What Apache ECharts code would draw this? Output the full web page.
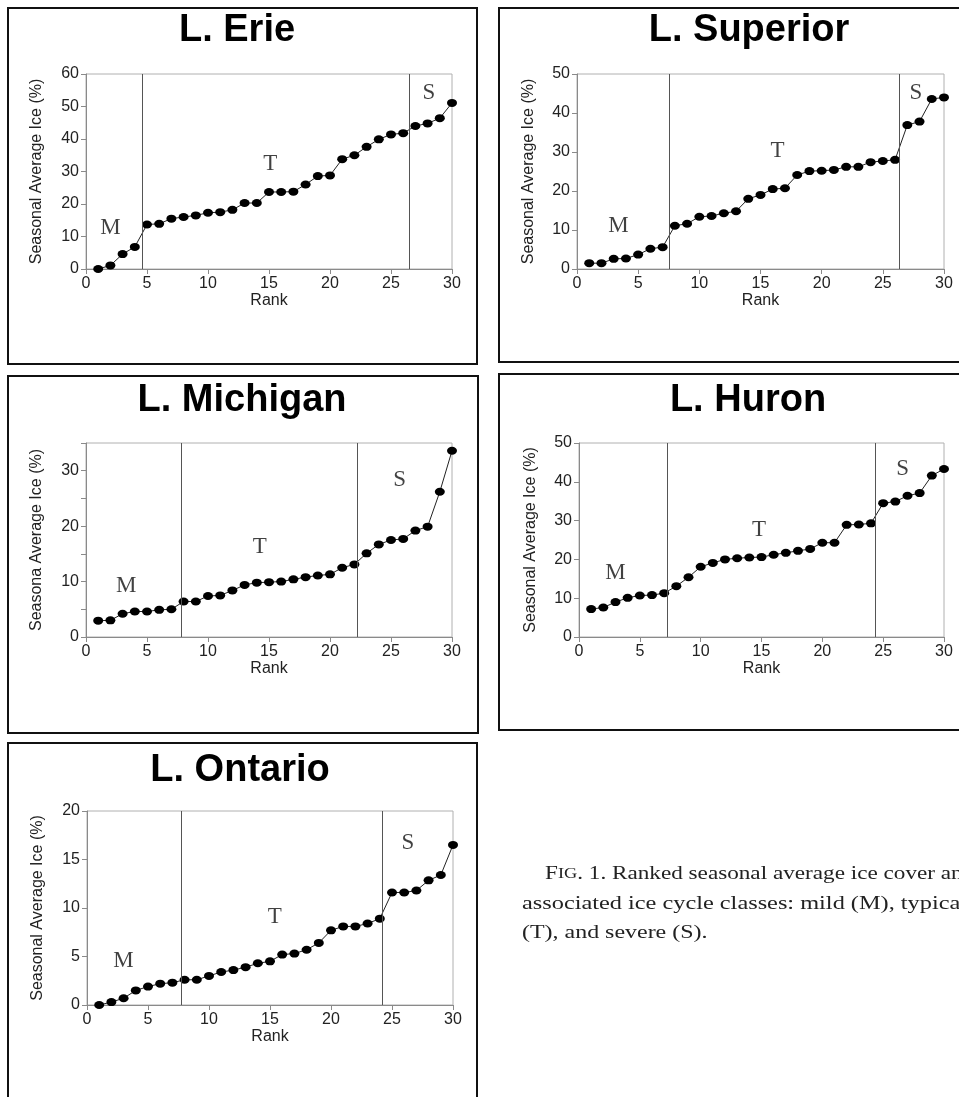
<!DOCTYPE html>
<html><head><meta charset="utf-8">
<script src="https://cdn.jsdelivr.net/npm/echarts@6/dist/echarts.min.js"></script>
<style>html,body{margin:0;padding:0;background:#fff}#c{width:959px;height:1097px}</style>
</head><body><div id="c"></div><script>
const ranks = [1,2,3,4,5,6,7,8,9,10,11,12,13,14,15,16,17,18,19,20,21,22,23,24,25,26,27,28,29,30];
const erie = [0,1.1,4.6,6.8,13.7,13.9,15.5,16.0,16.5,17.3,17.5,18.2,20.3,20.3,23.7,23.7,23.8,26.0,28.6,28.8,33.8,35.0,37.6,39.9,41.4,41.8,44.0,44.8,46.4,51.1];
const superior = [1.5,1.5,2.6,2.7,3.7,5.2,5.6,11.1,11.6,13.4,13.6,14.3,14.8,18.0,19.0,20.5,20.7,24.1,25.1,25.2,25.4,26.2,26.2,27.4,27.7,28.0,36.9,37.8,43.6,44.0];
const michigan = [2.95,3.0,4.2,4.6,4.6,4.9,5.0,6.4,6.4,7.4,7.5,8.4,9.4,9.8,9.9,10.0,10.4,10.8,11.1,11.3,12.5,13.1,15.1,16.7,17.5,17.7,19.2,19.9,26.2,33.6];
const huron = [7.2,7.6,9.0,10.1,10.7,10.8,11.3,13.1,15.4,18.1,19.1,20.0,20.3,20.5,20.6,21.2,21.7,22.2,22.7,24.3,24.3,28.9,29.0,29.3,34.5,34.9,36.4,37.1,41.6,43.3];
const ontario = [0,0.3,0.7,1.5,1.9,2.2,2.3,2.6,2.6,3.0,3.4,3.6,3.9,4.3,4.5,5.2,5.3,5.7,6.4,7.7,8.1,8.1,8.4,8.9,11.6,11.6,11.8,12.85,13.4,16.5];

// class boundaries (rank units)
const erieBounds = [4.6, 26.5];
const superiorBounds = [7.57, 26.37];
const michiganBounds = [7.78, 22.25];
const huronBounds = [7.22, 24.35];
const ontarioBounds = [7.75, 24.23];

// class letters: [rank, value, letter]
const erieLetters = [[2.0, 12.5, 'M'], [15.1, 32.3, 'T'], [28.1, 54.1, 'S']];
const superiorLetters = [[3.4, 11.0, 'M'], [16.4, 30.3, 'T'], [27.7, 45.2, 'S']];
const michiganLetters = [[3.3, 9.2, 'M'], [14.25, 16.3, 'T'], [25.7, 28.4, 'S']];
const huronLetters = [[3.0, 16.4, 'M'], [14.8, 27.6, 'T'], [26.6, 43.3, 'S']];
const ontarioLetters = [[3.0, 4.5, 'M'], [15.4, 9.1, 'T'], [26.3, 16.7, 'S']];

const xTicks = [0, 30, 5];      // min, max, interval
const titles = ['L. Erie', 'L. Superior', 'L. Michigan', 'L. Huron', 'L. Ontario'];
const yNames = ['Seasonal Average Ice (%)', 'Seasonal Average Ice (%)', 'Seasona Average Ice (%)', 'Seasonal Average Ice (%)', 'Seasonal Average Ice (%)'];
const xName = 'Rank';
const yMax = [60, 50, 35, 50, 20];
const yInterval = [10, 10, 5, 10, 5];
const captionLines = ['. 1. Ranked seasonal average ice cover and', 'associated ice cycle classes: mild (M), typical', '(T), and severe (S).'];

const panels = [
  {vals: erie, bounds: erieBounds, letters: erieLetters, grid: {left: 86, top: 74, width: 366, height: 195}, nameGap: 41, title: [237, 31], box: [8, 8, 469, 356]},
  {vals: superior, bounds: superiorBounds, letters: superiorLetters, grid: {left: 577, top: 74, width: 367, height: 195}, nameGap: 40, title: [749, 31], box: [499, 8, 480, 354]},
  {vals: michigan, bounds: michiganBounds, letters: michiganLetters, grid: {left: 86, top: 443, width: 366, height: 194}, nameGap: 41, title: [242, 401], box: [8, 376, 470, 357]},
  {vals: huron, bounds: huronBounds, letters: huronLetters, grid: {left: 579, top: 443, width: 365, height: 194}, nameGap: 40, title: [748, 401], box: [499, 374, 480, 356]},
  {vals: ontario, bounds: ontarioBounds, letters: ontarioLetters, grid: {left: 87, top: 811, width: 366, height: 194}, nameGap: 41, title: [240, 771], box: [8, 743, 469, 370]}
];

const axisColor = '#8a8a8a';
const labelFont = 'Liberation Sans, Arial, sans-serif';
const serif = 'Liberation Serif, Times New Roman, serif';

const grids = [], xAxes = [], yAxes = [], series = [], graphics = [];
panels.forEach((p, i) => {
  grids.push(Object.assign({show: true, borderColor: '#b0b0b0', borderWidth: 1, backgroundColor: 'transparent', containLabel: false}, p.grid));
  xAxes.push({
    type: 'value', gridIndex: i, min: xTicks[0], max: xTicks[1], interval: xTicks[2],
    name: xName, nameLocation: 'middle', nameGap: 24,
    nameTextStyle: {fontSize: 16, color: '#222', fontFamily: labelFont},
    axisLine: {show: true, onZero: false, lineStyle: {color: axisColor, width: 1}},
    axisTick: {show: true, inside: false, length: 5, lineStyle: {color: axisColor}},
    axisLabel: {fontSize: 16, color: '#222', fontFamily: labelFont, margin: 7},
    splitLine: {show: false}
  });
  const yi = yInterval[i];
  yAxes.push({
    type: 'value', gridIndex: i, min: 0, max: yMax[i], interval: yi,
    name: yNames[i], nameLocation: 'middle', nameGap: p.nameGap, nameRotate: 90,
    nameTextStyle: {fontSize: 16, color: '#222', fontFamily: labelFont},
    axisLine: {show: true, lineStyle: {color: axisColor, width: 1}},
    axisTick: {show: true, inside: false, length: 5, lineStyle: {color: axisColor}},
    axisLabel: {fontSize: 16, color: '#222', fontFamily: labelFont, margin: 7,
      formatter: v => (i === 2 && v % 10 !== 0) ? '' : String(v)},
    splitLine: {show: false}
  });
  series.push({
    type: 'line', xAxisIndex: i, yAxisIndex: i,
    data: p.vals.map((v, k) => [ranks[k], v]),
    symbol: 'circle', symbolSize: [10, 8],
    itemStyle: {color: '#000'},
    lineStyle: {color: '#222', width: 1},
    z: 3,
    markLine: {
      silent: true, symbol: ['none', 'none'], label: {show: false},
      lineStyle: {color: '#555', width: 1, type: 'solid'},
      data: p.bounds.map(b => ({xAxis: b}))
    }
  });
  series.push({
    type: 'scatter', xAxisIndex: i, yAxisIndex: i,
    data: p.letters.map(l => [l[0], l[1], l[2]]),
    symbol: 'circle', symbolSize: 1, itemStyle: {color: 'rgba(0,0,0,0)'},
    label: {show: true, position: 'inside', formatter: d => d.data[2],
      fontFamily: serif, fontSize: 23, color: '#111'},
    silent: true
  });
  graphics.push({
    type: 'rect', shape: {x: p.box[0], y: p.box[1], width: p.box[2], height: p.box[3]},
    style: {fill: 'none', stroke: '#111', lineWidth: 2}, z: -1
  });
  graphics.push({
    type: 'text', x: p.title[0], y: p.title[1],
    style: {text: titles[i], fontFamily: labelFont, fontWeight: 'bold', fontSize: 38,
      fill: '#000', align: 'center', verticalAlign: 'middle'}
  });
});

graphics.push({
  type: 'text', x: 545, y: 874, scaleX: 1.22,
  style: {
    text: '{a|F}{b|IG}{a|' + captionLines[0] + '}',
    verticalAlign: 'middle',
    rich: {
      a: {fontFamily: serif, fontSize: 19, fill: '#222'},
      b: {fontFamily: serif, fontSize: 15, fill: '#222'}
    }
  }
});
graphics.push({type: 'text', x: 522, y: 904, scaleX: 1.28, style: {text: captionLines[1], fontFamily: serif, fontSize: 19, fill: '#222', verticalAlign: 'middle'}});
graphics.push({type: 'text', x: 522, y: 933, scaleX: 1.26, style: {text: captionLines[2], fontFamily: serif, fontSize: 19, fill: '#222', verticalAlign: 'middle'}});

const chart = echarts.init(document.getElementById('c'));
chart.setOption({
  animation: false,
  backgroundColor: '#fff',
  grid: grids, xAxis: xAxes, yAxis: yAxes, series: series,
  graphic: {elements: graphics}
});
</script></body></html>
